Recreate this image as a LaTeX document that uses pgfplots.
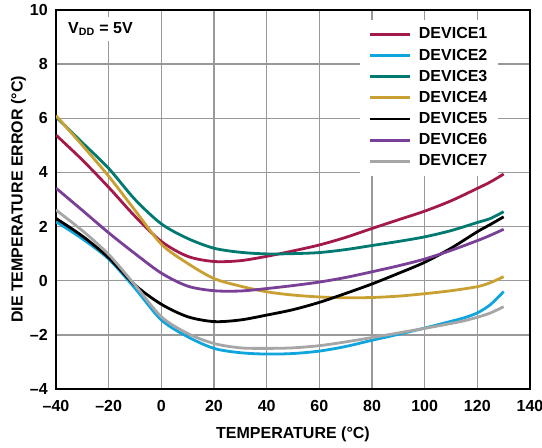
\documentclass[border=0pt]{standalone}
\usepackage{pgfplots}
\pgfplotsset{compat=1.18}
\usepackage{fontspec}
\setmainfont{Liberation Sans}
\definecolor{dev1}{HTML}{A3194B}
\definecolor{dev2}{HTML}{10A5DC}
\definecolor{dev3}{HTML}{007A70}
\definecolor{dev4}{HTML}{C9A032}
\definecolor{dev5}{HTML}{000000}
\definecolor{dev6}{HTML}{7A3F96}
\definecolor{dev7}{HTML}{A6A6A6}
\begin{document}
\begin{tikzpicture}
\begin{axis}[
  name=ax,
  width=355.5pt, height=284.25pt, scale only axis,
  xmin=-40, xmax=140, ymin=-4, ymax=10,
  xtick={-40,-20,0,20,40,60,80,100,120,140},
  xticklabels={--40,--20,0,20,40,60,80,100,120,140},
  ytick={-4,-2,0,2,4,6,8,10},
  yticklabels={--4,--2,0,2,4,6,8,10},
  tick label style={font=\fontsize{12}{14}\selectfont\bfseries},
  xticklabel style={anchor=center, yshift=-12.75pt},
  yticklabel style={anchor=east, inner xsep=0pt, xshift=-6pt},
  xlabel={TEMPERATURE (°C)},
  ylabel={DIE TEMPERATURE ERROR (°C)},
  every axis x label/.style={at={(rel axis cs:0.5,0)}, yshift=-33.75pt, anchor=center, font=\fontsize{12}{14}\selectfont\bfseries},
  every axis y label/.style={at={(rel axis cs:0,0.5)}, xshift=-28.2pt, rotate=90, anchor=center, font=\fontsize{12}{14}\selectfont\bfseries},
  grid=major,
  major grid style={color=gray!80, line width=1pt},
  major tick length=0pt,
  axis line style={line width=1.4pt},
  every axis plot/.append style={line width=2.1pt, smooth, no markers},
  legend style={at={(0.641,0.975)}, anchor=north west, draw=none, fill=white,
    font=\fontsize{12}{14}\selectfont\bfseries, row sep=2pt,
    inner xsep=6pt, inner ysep=4pt,
    /tikz/every odd column/.append style={column sep=4pt}},
  legend cell align=left,
  legend image code/.code={\draw[#1] (0pt,0pt) -- (30pt,0pt);},
]
\addplot[dev1] coordinates {(-40,5.38) (-30,4.46) (-20,3.45) (-10,2.38) (0,1.45) (10,0.9) (20,0.71) (30,0.74) (40,0.9) (50,1.1) (60,1.32) (70,1.6) (80,1.93) (90,2.25) (100,2.57) (110,2.95) (120,3.41) (125,3.65) (130,3.94)};
\addlegendentry{DEVICE1}
\addplot[dev2] coordinates {(-40,2.18) (-30,1.55) (-20,0.8) (-10,-0.28) (0,-1.45) (10,-2.07) (20,-2.5) (30,-2.66) (40,-2.71) (50,-2.69) (60,-2.6) (70,-2.43) (80,-2.2) (90,-1.98) (100,-1.75) (110,-1.5) (115,-1.37) (120,-1.19) (125,-0.88) (130,-0.4)};
\addlegendentry{DEVICE2}
\addplot[dev3] coordinates {(-40,6.05) (-30,5.1) (-20,4.15) (-10,3.0) (0,2.1) (10,1.56) (20,1.2) (30,1.05) (40,0.99) (50,1.0) (60,1.04) (70,1.15) (80,1.3) (90,1.45) (100,1.62) (110,1.85) (120,2.15) (125,2.3) (130,2.55)};
\addlegendentry{DEVICE3}
\addplot[dev4] coordinates {(-40,6.1) (-30,5.0) (-20,3.86) (-10,2.6) (0,1.35) (10,0.64) (20,0.08) (30,-0.2) (40,-0.41) (50,-0.53) (60,-0.6) (70,-0.63) (80,-0.62) (90,-0.57) (100,-0.48) (110,-0.37) (120,-0.22) (125,-0.07) (130,0.15)};
\addlegendentry{DEVICE4}
\addplot[dev5] coordinates {(-40,2.3) (-30,1.65) (-20,0.85) (-10,-0.16) (0,-0.87) (10,-1.33) (20,-1.51) (30,-1.45) (40,-1.27) (50,-1.07) (60,-0.8) (70,-0.47) (80,-0.12) (90,0.27) (100,0.68) (110,1.2) (120,1.81) (125,2.08) (130,2.36)};
\addlegendentry{DEVICE5}
\addplot[dev6] coordinates {(-40,3.42) (-30,2.6) (-20,1.77) (-10,1.0) (0,0.28) (10,-0.2) (20,-0.37) (30,-0.38) (40,-0.29) (50,-0.18) (60,-0.05) (70,0.12) (80,0.33) (90,0.55) (100,0.8) (110,1.12) (120,1.48) (125,1.68) (130,1.9)};
\addlegendentry{DEVICE6}
\addplot[dev7] coordinates {(-40,2.61) (-30,1.85) (-20,0.97) (-10,-0.16) (0,-1.33) (10,-1.95) (20,-2.32) (30,-2.48) (40,-2.5) (50,-2.48) (60,-2.4) (70,-2.26) (80,-2.1) (90,-1.93) (100,-1.76) (110,-1.58) (115,-1.48) (120,-1.35) (125,-1.19) (130,-0.96)};
\addlegendentry{DEVICE7}
\node[anchor=west, fill=white, inner sep=4pt, font=\fontsize{12}{14}\selectfont\bfseries] at (axis cs:-37.5,9.3) {V\textsubscript{DD} = 5V};
\end{axis}
\pgfresetboundingbox
\path[use as bounding box] ([xshift=-42pt,yshift=-44.25pt]ax.south west) rectangle ([xshift=9pt,yshift=7.5pt]ax.north east);
\end{tikzpicture}
\end{document}
